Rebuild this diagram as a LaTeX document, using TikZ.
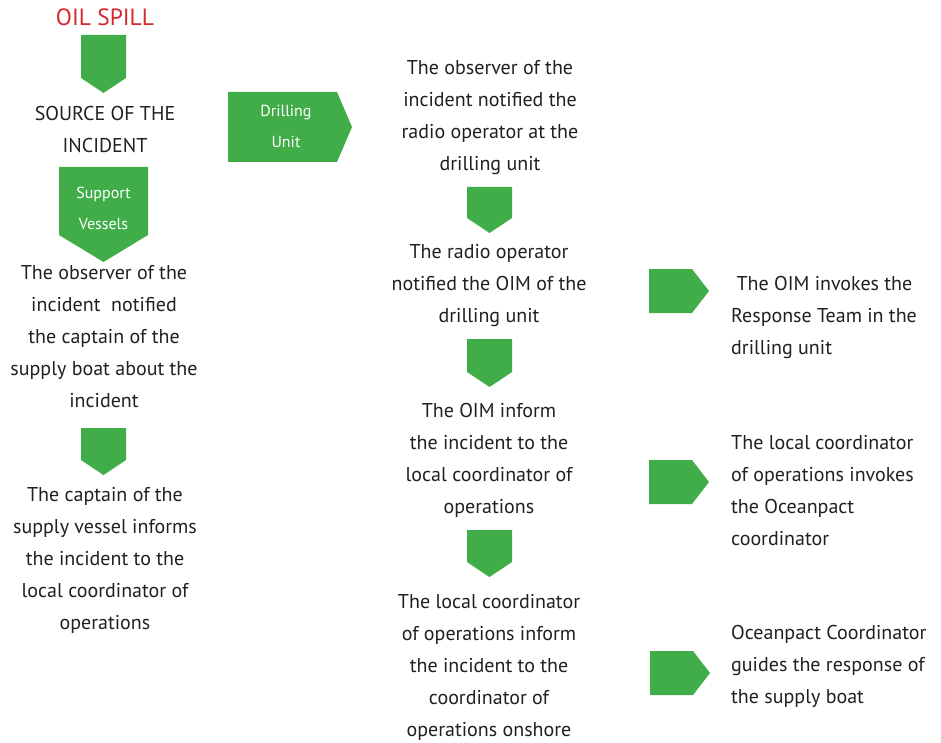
\documentclass[tikz,border=0pt]{standalone}
\usepackage{fontspec}
\setmainfont{PT Sans}
\definecolor{spillgreen}{HTML}{41AD49}
\definecolor{spillred}{HTML}{D7262E}
\definecolor{inktext}{HTML}{231F20}
\tikzset{
  stepnote/.style={text=inktext, align=center, inner sep=0pt, font=\fontsize{20}{32}\selectfont},
  sidenote/.style={stepnote, align=left, anchor=west},
  tagnote/.style={text=white, align=center, inner sep=0pt, font=\fontsize{16}{31}\selectfont}
}

\begin{document}
\begin{tikzpicture}[x=1pt,y=1pt,yscale=-1,xscale=1]
\useasboundingbox (0,0) rectangle (941,743);
% left column
\node [text=spillred, inner sep=0pt, font=\fontsize{23.5}{26}\selectfont] (spill) at (105,17) {OIL SPILL};
\fill [spillgreen] (81,35) -- (126,35) -- (126,78) -- (103.5,93) -- (81,78) -- cycle;
\node [stepnote] (source) at (105,129.5) {SOURCE OF THE\\INCIDENT};
\fill [spillgreen] (59,167) -- (148,167) -- (148,235) -- (103.5,262) -- (59,235) -- cycle;
\node [tagnote] (support) at (103.5,208) {Support\\Vessels};
\node [stepnote] (obsv) at (104,336.5) {The observer of the\\incident\ \ notified\\the captain of the\\supply boat about the\\incident};
\fill [spillgreen] (81,428) -- (126,428) -- (126,460) -- (103.5,475) -- (81,460) -- cycle;
\node [stepnote] (captain) at (105,560) {The captain of the\\supply vessel informs\\the incident to the\\local coordinator of\\operations};
% drilling unit
\fill [spillgreen] (228,92) -- (337,92) -- (352,127) -- (337,162) -- (228,162) -- cycle;
\node [tagnote] (drilling) at (286,126) {Drilling\\Unit};
% middle column
\node [stepnote] (obsd) at (490,118) {The observer of the\\incident notified the\\radio operator at the\\drilling unit};
\fill [spillgreen] (467,187) -- (512,187) -- (512,218) -- (489.5,233) -- (467,218) -- cycle;
\node [stepnote] (radio) at (489,285.5) {The radio operator\\notified the OIM of the\\drilling unit};
\fill [spillgreen] (467,339) -- (512,339) -- (512,372) -- (489.5,387) -- (467,372) -- cycle;
\node [stepnote] (oim) at (489,460) {The OIM inform\\the incident to the\\local coordinator of\\operations};
\fill [spillgreen] (467,530) -- (512,530) -- (512,562) -- (489.5,577) -- (467,562) -- cycle;
\node [stepnote] (local) at (489,667) {The local coordinator\\of operations inform\\the incident to the\\coordinator of\\operations onshore};
% right column
\fill [spillgreen] (649,269) -- (692,269) -- (709,291) -- (692,313) -- (649,313) -- cycle;
\node [sidenote] (respteam) at (731,317) {\ The OIM invokes the\\Response Team in the\\drilling unit};
\fill [spillgreen] (649,460) -- (692,460) -- (709,482) -- (692,504) -- (649,504) -- cycle;
\node [sidenote] (invokes) at (731,491) {The local coordinator\\of operations invokes\\the Oceanpact\\coordinator};
\fill [spillgreen] (650,651) -- (693,651) -- (710,673) -- (693,695) -- (650,695) -- cycle;
\node [sidenote] (guides) at (731,666) {Oceanpact Coordinator\\guides the response of\\the supply boat};
\end{tikzpicture}
\end{document}
